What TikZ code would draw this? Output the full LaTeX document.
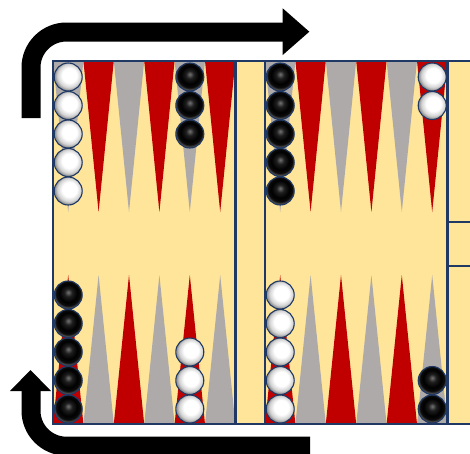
\documentclass[tikz,border=0pt]{standalone}
\definecolor{cream}{HTML}{FFE599}
\definecolor{ptred}{HTML}{C00000}
\definecolor{ptgray}{HTML}{AEAAAA}
\definecolor{navy}{HTML}{1F3864}
\pgfdeclareradialshading{whitechk}{\pgfpoint{3bp}{4bp}}{color(0bp)=(white); color(13bp)=(white); color(21bp)=(gray!35); color(25bp)=(gray!80); color(50bp)=(gray!80)}
\pgfdeclareradialshading{blackchk}{\pgfpoint{0bp}{5bp}}{color(0bp)=(black!55); color(7bp)=(black!88); color(16bp)=(black); color(22bp)=(black!95); color(25bp)=(black!70); color(50bp)=(black!70)}
\tikzset{
  chk/.style={circle, minimum size=28pt, inner sep=0pt, draw=navy, line width=1.1pt},
  wchk/.style={chk, shading=whitechk},
  bchk/.style={chk, shading=blackchk},
  boardline/.style={draw=navy, line width=2.2pt},
  bigarrow/.style={draw=black, line width=19pt, rounded corners=35.5pt}
}
\begin{document}
\begin{tikzpicture}[x=1pt,y=-1pt]
\useasboundingbox (0,0) rectangle (470,453);
\clip (0,0) rectangle (470,453);
% board background
\fill[cream] (53,61) rectangle (480,424);
% top points
\foreach \i/\c in {0/ptgray,1/ptred,2/ptgray,3/ptred,4/ptgray,5/ptred}{
  \fill[\c] ({53+30.4*\i},61) -- ({53+30.4*(\i+1)},61) -- ({53+30.4*(\i+0.5)},212) -- cycle;
  \fill[\c] ({265+30.4*\i},61) -- ({265+30.4*(\i+1)},61) -- ({265+30.4*(\i+0.5)},212) -- cycle;
}
% bottom points
\foreach \i/\c in {0/ptred,1/ptgray,2/ptred,3/ptgray,4/ptred,5/ptgray}{
  \fill[\c] ({53+30.4*\i},424) -- ({53+30.4*(\i+1)},424) -- ({53+30.4*(\i+0.5)},275) -- cycle;
  \fill[\c] ({265+30.4*\i},424) -- ({265+30.4*(\i+1)},424) -- ({265+30.4*(\i+0.5)},275) -- cycle;
}
% checkers top
\foreach \j in {0,...,4}{
  \node[wchk] (wtl\j) at (68.2,{77+28.5*\j}) {};
  \node[bchk] (btr\j) at (280.2,{77+28.5*\j}) {};
}
\foreach \j in {0,...,2}{
  \node[bchk] (btl\j) at (189.8,{77+28.5*\j}) {};
}
\foreach \j in {0,...,1}{
  \node[wchk] (wtr\j) at (432.2,{77+28.5*\j}) {};
}
% checkers bottom
\foreach \j in {0,...,4}{
  \node[bchk] (bbl\j) at (68.2,{409-28.5*\j}) {};
  \node[wchk] (wbr\j) at (280.2,{409-28.5*\j}) {};
}
\foreach \j in {0,...,2}{
  \node[wchk] (wbl\j) at (189.8,{409-28.5*\j}) {};
}
\foreach \j in {0,...,1}{
  \node[bchk] (bbr\j) at (432.2,{409-28.5*\j}) {};
}
% board lines
\draw[boardline] (53,61) rectangle (480,424);
\draw[boardline] (235.5,61) -- (235.5,424);
\draw[boardline] (265,61) -- (265,424);
\draw[boardline] (447.5,61) -- (447.5,424);
\draw[boardline] (447.5,221.7) -- (480,221.7);
\draw[boardline] (447.5,266) -- (480,266);
% top arrow
\draw[bigarrow] (31,118) -- (31,32) -- (284,32);
\fill[black] (282.7,8.3) -- (309.3,31.7) -- (282.7,55) -- cycle;
% bottom arrow
\draw[bigarrow] (31,389) -- (31,446.2) -- (310,446.2);
\fill[black] (10,391) -- (30.5,370) -- (51,391) -- cycle;
\end{tikzpicture}
\end{document}
